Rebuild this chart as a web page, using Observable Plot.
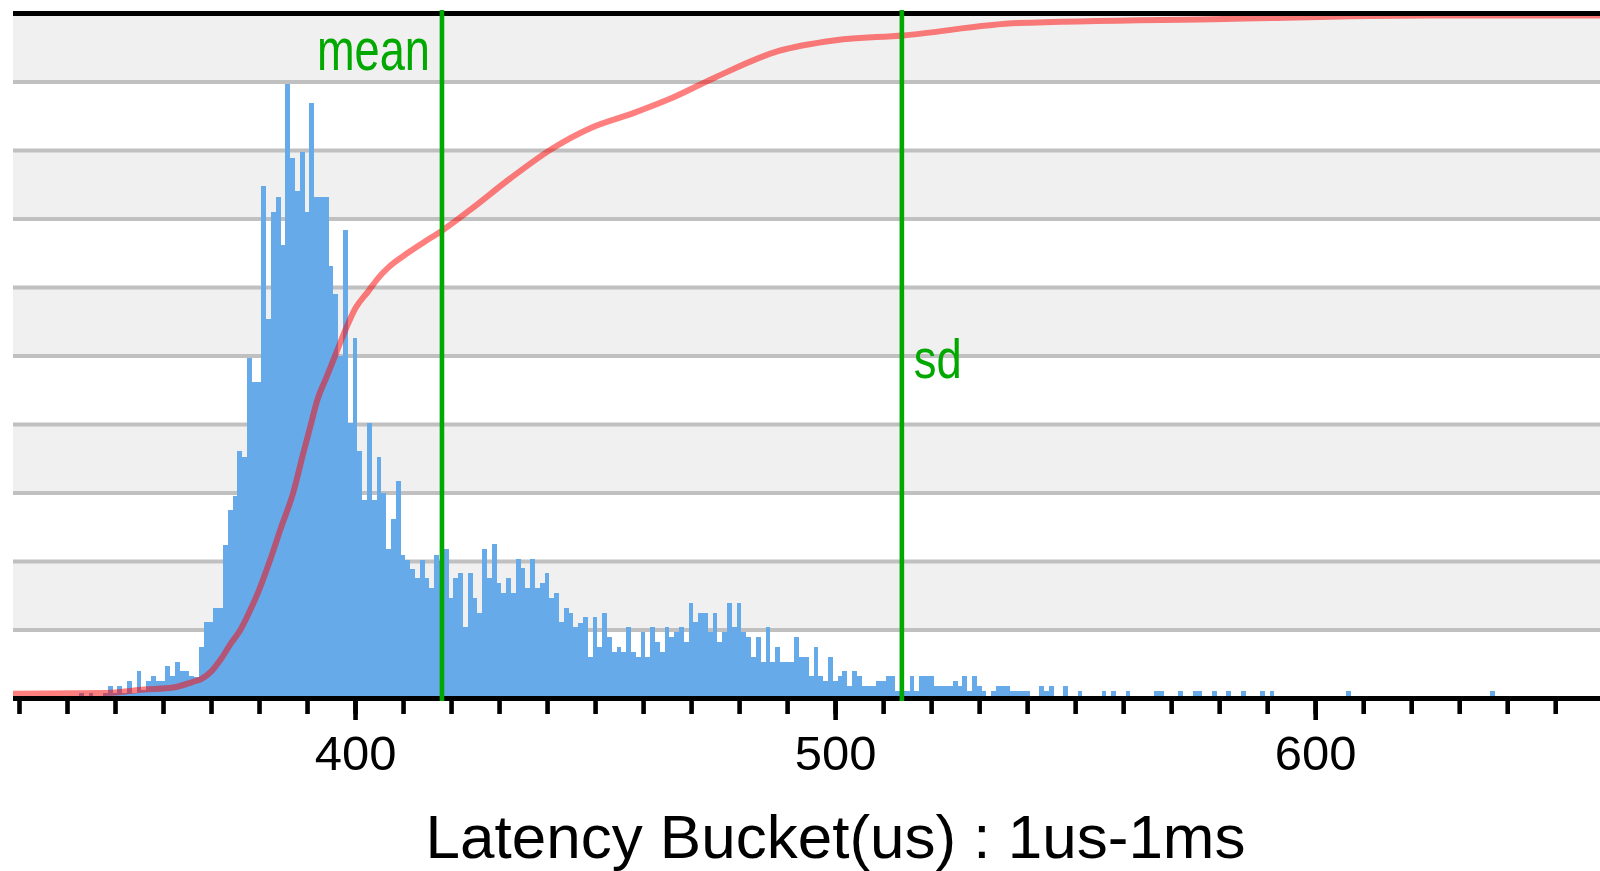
<!DOCTYPE html>
<html>
<head>
<meta charset="utf-8">
<script src="https://cdn.jsdelivr.net/npm/d3@7"></script>
<script src="https://cdn.jsdelivr.net/npm/@observablehq/plot@0.6"></script>
<style>
html, body { margin: 0; padding: 0; background: #fff; }
#chart svg { display: block; }
</style>
</head>
<body>
<div id="chart"></div>
<script>
// ---- data ----
const bucketStart = 329; // first latency bucket (us)
const counts = [
  0,0,0,0,0,0,0,0,0,0,0,0,0,0,            // 329-342
  7,0,7,0,0,7,                            // 343-348
  17,8,17,8,25,8,39,12,25,32,             // 349-358
  25,25,47,32,53,39,39,32,30,75,          // 359-368
  111,111,131,131,                        // 369-372
  224,274,295,360,352,496,461,461,747,553,// 373-382
  710,732,661,897,789,740,797,710,868,732,// 383-392
  732,732,631,590,499,683,402,525,360,289,// 393-402
  402,289,352,300,217,262,317,209,202,189,// 403-412
  175,202,175,160,209,                    // 413-417
  200,                                    // 418
  217,146,175,183,104,183,146,124,217,175,// 419-428
  225,168,153,175,153,203,190,161,203,161,// 429-438
  168,183,146,153,111,131,124,104,110,118,// 439-448
  60,118,74,124,89,67,74,67,104,67,       // 449-458
  60,96,60,104,82,67,104,89,96,104,       // 459-468
  82,139,111,124,124,96,124,82,96,139,    // 469-478
  104,139,96,89,60,                       // 479-483
  89,53,104,53,74,53,53,53,89,60,         // 484-493
  60,32,74,32,25,60,25,32,39,18,          // 494-503
  39,32,18,18,18,25,25,32,32,10,          // 504-513
  10,10,32,10,32,32,32,18,18,18,          // 514-523
  18,25,18,32,10,32,18,10,0,10,           // 524-533
  18,18,18,10,10,10,10,0,0,18,            // 534-543
  10,18,0,0,18,0,0,10,0,0,                // 544-553
  0,0,10,0,10,0,0,10,0,0,                 // 554-563
  0,0,0,10,10,0,0,0,10,0,                 // 564-573
  0,10,10,0,0,10,0,0,10,0,                // 574-583
  0,10,0,0,0,10,0,10,0,0,                 // 584-593
  0,0,0,0,0,0,0,0,0,0,                    // 594-603
  0,0,0,10,0,0,0,0,0,0,                   // 604-613
  0,0,0,0,0,0,0,0,0,0,                    // 614-623
  0,0,0,0,0,0,0,0,0,0,                    // 624-633
  0,0,0,10,0,0,0,0,0,0,                   // 634-643
  0,0,0,0,0,0,0,0,0,0,                    // 644-653
  0,0,0,0,0,0                             // 654-659
];
// cumulative curve (permille of the full height)
const cdfBuckets = [328.7, 348, 356, 362, 366, 368, 370, 372, 374, 376, 378, 380, 382, 384.5, 387, 389, 390.5, 392, 394, 396, 398, 400, 402.6, 404.5, 406.8, 411, 414, 418, 424, 432, 441, 449, 458, 466, 475, 488, 500, 514, 538, 581, 624, 659.4];
const cdfLevels  = [7,     8,   13,  16,  24,  29,  40,  58,  80,  100, 128, 160, 198, 250,   300, 355, 395,   435, 470, 505, 540, 570, 594,   612,   629,   651, 665, 683, 714, 758, 803, 833, 855, 877, 907, 945, 961, 968, 986, 992, 997, 997];
const meanValue = 418.0;
const sdValue = 513.8;
const meanLabel = "mean";
const sdLabel = "sd";
const axisTitle = "Latency Bucket(us) : 1us-1ms";
const xDomain = [328.75, 659.33];
const yDomain = [0, 1000];
const minorTicks = [330,340,350,360,370,380,390,400,410,420,430,440,450,460,470,480,490,500,510,520,530,540,550,560,570,580,590,600,610,620,630,640,650,660];
const majorTicks = [400, 500, 600];
const gridLevels = [100,200,300,400,500,600,700,800,900];
const bandStarts = [100,300,500,700,900];

// ---- derived tables ----
const rows = counts.map((c, i) => ({bucket: bucketStart + i, count: c}));
const cdf = cdfBuckets.map((b, i) => ({x: b, y: cdfLevels[i]}));

const blue = "#66aaea";
const green = "#00a800";

const chart = Plot.plot({
  width: 1600,
  height: 871,
  marginLeft: 13,
  marginRight: 0,
  marginTop: 13,
  marginBottom: 173,
  style: {fontFamily: "'Liberation Sans', Arial, sans-serif", background: "#fff", color: "#000", overflow: "visible"},
  x: {domain: xDomain, axis: null},
  y: {domain: yDomain, axis: null},
  marks: [
    Plot.rect(bandStarts, {y1: d => d, y2: d => d + 100, fill: "#f0f0f0"}),
    Plot.ruleY(gridLevels, {stroke: "#c0c0c0", strokeWidth: 4}),
    Plot.rectY(rows, {x1: d => d.bucket - 0.5, x2: d => d.bucket + 0.5, y: "count", fill: blue, inset: 0, shapeRendering: "crispEdges", clip: true}),
    Plot.line(cdf, {x: "x", y: "y", stroke: "red", strokeOpacity: 0.5, strokeWidth: 6, curve: "monotone-x", clip: true}),
    Plot.ruleY([0], {stroke: "#000", strokeWidth: 5}),
    Plot.ruleY([yDomain[1]], {stroke: "#000", strokeWidth: 5}),
    Plot.axisX({ticks: minorTicks, tickSize: 16, tickFormat: () => "", strokeWidth: 4.6, stroke: "#000", label: null}),
    Plot.axisX({ticks: majorTicks, tickSize: 22, tickPadding: 15, tickFormat: d => String(d), fontSize: 49, strokeWidth: 4.6, stroke: "#000", fill: "#000", label: null}),
    Plot.ruleX([meanValue, sdValue], {stroke: green, strokeWidth: 4.6, insetTop: -3, insetBottom: -3}),
    Plot.text([meanValue], {x: d => d, text: () => meanLabel, frameAnchor: "top", lineAnchor: "bottom", textAnchor: "start", dx: -125, dy: 56, fontSize: 60, fill: green}),
    Plot.text([sdValue], {x: d => d, text: () => sdLabel, frameAnchor: "top", lineAnchor: "bottom", textAnchor: "start", dx: 12, dy: 364, fontSize: 55, fill: green}),
    Plot.text([axisTitle], {frameAnchor: "bottom", lineAnchor: "bottom", dx: 28.5, dy: 159, fontSize: 61.5, fill: "#000"})
  ]
});

// squeeze labels to the narrow bitmap-font widths of the original
const textWidths = new Map([[meanLabel, 113], [sdLabel, 48], [axisTitle, 820]]);
d3.select(chart).selectAll("text").each(function () {
  const w = textWidths.get(this.textContent);
  if (w) d3.select(this).attr("textLength", w).attr("lengthAdjust", "spacingAndGlyphs");
});

document.getElementById("chart").appendChild(chart);
</script>
</body>
</html>
